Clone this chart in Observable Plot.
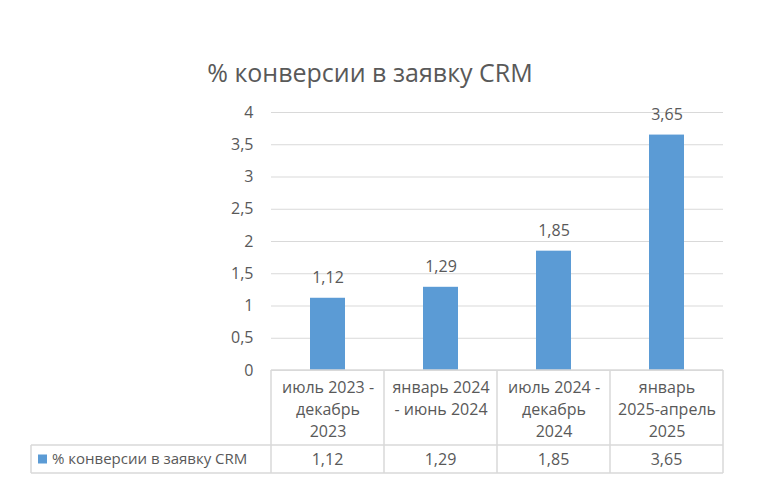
<!DOCTYPE html>
<html>
<head>
<meta charset="utf-8">
<script src="https://cdn.jsdelivr.net/npm/d3@7"></script>
<script src="https://cdn.jsdelivr.net/npm/@observablehq/plot@0.6"></script>
<style>
  html, body { margin: 0; padding: 0; background: #fff; }
  #wrap { position: relative; width: 762px; height: 487px; font-family: "Open Sans", sans-serif; }
  #title { position: absolute; left: 0; width: 740px; top: 54px; text-align: center; font-size: 25px; color: #595959; line-height: 36px; }
</style>
</head>
<body>
<div id="wrap">
  <div id="title">% конверсии в заявку CRM</div>
  <div id="chart"></div>
</div>
<script>
const seriesName = "% конверсии в заявку CRM";
const categories = ["июль 2023 - декабрь 2023", "январь 2024 - июнь 2024", "июль 2024 - декабрь 2024", "январь 2025-апрель 2025"];
const tickLabels = ["июль 2023 -\nдекабрь\n2023", "январь 2024\n- июнь 2024", "июль 2024 -\nдекабрь\n2024", "январь\n2025-апрель\n2025"];
const values = [1.12, 1.29, 1.85, 3.65];
const yTicks = [0, 0.5, 1, 1.5, 2, 2.5, 3, 3.5, 4];

const data = categories.map((c, i) => ({category: c, value: values[i]}));
const ru = d3.formatLocale({decimal: ",", thousands: "\u00a0", grouping: [3], currency: ["", " ₽"]});
const fmtVal = ru.format(".2f");
const fmtTick = ru.format("~g");
const textColor = "#595959";
const lineColor = "#d9d9d9";
const barColor = "#5b9bd5";
const fs = 16;
const labelOf = new Map(categories.map((c, i) => [c, tickLabels[i]]));

const plot = Plot.plot({
  width: 762,
  height: 487,
  marginTop: 112,
  marginBottom: 117,
  marginLeft: 271,
  marginRight: 39,
  style: {fontFamily: "Open Sans, sans-serif", color: textColor, background: "#fff"},
  x: {domain: categories, padding: 0},
  y: {domain: [0, 4]},
  marks: [
    Plot.gridY(yTicks, {stroke: lineColor, strokeOpacity: 1}),
    Plot.axisY(yTicks, {tickSize: 0, tickPadding: 18, tickFormat: fmtTick, fontSize: fs, fill: textColor, label: null}),
    Plot.axisX({tickSize: 0, tickPadding: 7, tickFormat: d => labelOf.get(d), fontSize: fs, lineHeight: 1.38, fill: textColor, label: null}),
    Plot.barY(data, {x: "category", y: "value", fill: barColor, insetLeft: 39, insetRight: 39}),
    Plot.text(data, {x: "category", y: "value", text: d => fmtVal(d.value), dy: -20, fontSize: fs, fill: textColor})
  ]
});
document.getElementById("chart").appendChild(plot);

// Data table drawn from the plot's own scales
const xs = plot.scale("x");
const ys = plot.scale("y");
const svg = d3.select(plot);
const y0 = ys.apply(0);
const rowTop = 445, rowBottom = 473, legendLeft = 31;
const bounds = categories.map(c => xs.apply(c)).concat([xs.apply(categories[categories.length - 1]) + xs.step]);
const g = svg.append("g").attr("stroke", lineColor).attr("stroke-width", 1.5).attr("fill", "none");
bounds.forEach(b => g.append("line").attr("x1", b).attr("x2", b).attr("y1", y0).attr("y2", rowBottom));
g.append("line").attr("x1", bounds[0]).attr("x2", bounds[bounds.length - 1]).attr("y1", y0).attr("y2", y0);
g.append("line").attr("x1", legendLeft).attr("x2", bounds[bounds.length - 1]).attr("y1", rowTop).attr("y2", rowTop);
g.append("line").attr("x1", legendLeft).attr("x2", bounds[bounds.length - 1]).attr("y1", rowBottom).attr("y2", rowBottom);
g.append("line").attr("x1", legendLeft).attr("x2", legendLeft).attr("y1", rowTop).attr("y2", rowBottom);

const midRow = (rowTop + rowBottom) / 2;
const t = svg.append("g").attr("font-family", "Open Sans, sans-serif").attr("font-size", fs).attr("fill", textColor);
categories.forEach((c, i) => {
  t.append("text").attr("x", xs.apply(c) + xs.bandwidth / 2).attr("y", midRow).attr("dy", "0.35em")
    .attr("text-anchor", "middle").text(fmtVal(values[i]));
});
svg.append("rect").attr("x", 38).attr("y", midRow - 4.5).attr("width", 9).attr("height", 9).attr("fill", barColor);
t.append("text").attr("x", 52).attr("y", midRow).attr("dy", "0.35em").attr("text-anchor", "start")
  .attr("font-size", 15).text(seriesName);
</script>
</body>
</html>
